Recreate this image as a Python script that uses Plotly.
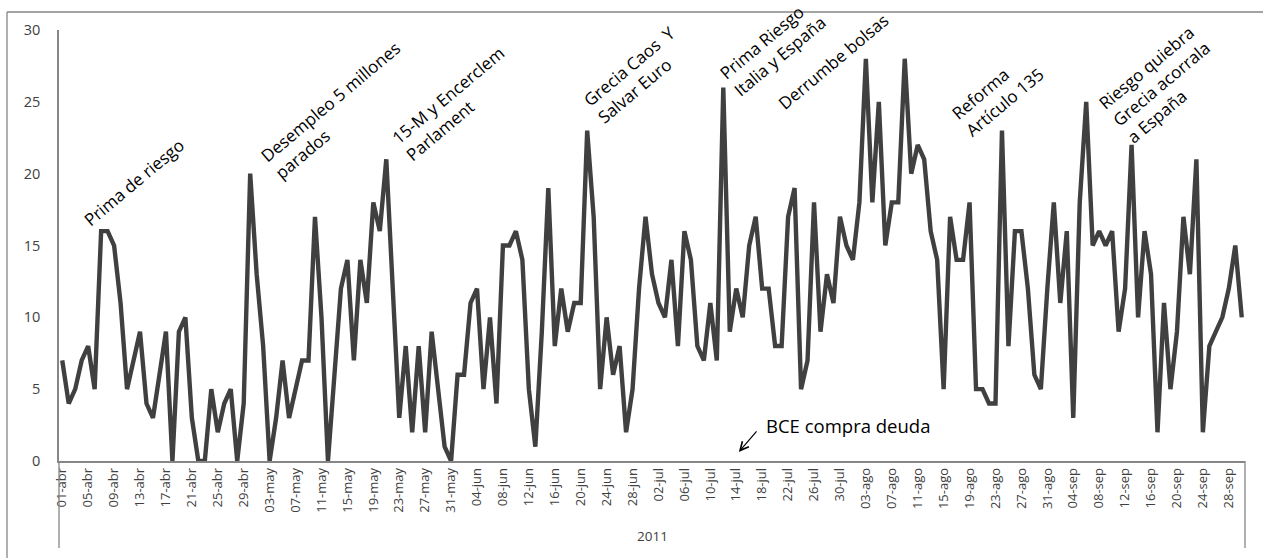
import pandas as pd
import plotly.graph_objects as go

# Daily counts, April-September 2011
abril = [7, 4, 5, 7, 8, 5, 16, 16, 15, 11, 5, 7, 9, 4, 3, 6, 9, 0, 9, 10,
         3, 0, 0, 5, 2, 4, 5, 0, 4, 20]
mayo = [13, 8, 0, 3, 7, 3, 5, 7, 7, 17, 10, 0, 6, 12, 14, 7, 14, 11, 18, 16,
        21, 12, 3, 8, 2, 8, 2, 9, 5, 1, 0]
junio = [6, 6, 11, 12, 5, 10, 4, 15, 15, 16, 14, 5, 1, 9, 19, 8, 12, 9, 11, 11,
         23, 17, 5, 10, 6, 8, 2, 5, 12, 17]
julio = [13, 11, 10, 14, 8, 16, 14, 8, 7, 11, 7, 26, 9, 12, 10, 15, 17, 12, 12, 8,
         8, 17, 19, 5, 7, 18, 9, 13, 11, 17, 15]
agosto = [14, 18, 28, 18, 25, 15, 18, 18, 28, 20, 22, 21, 16, 14, 5, 17, 14, 14, 18, 5,
          5, 4, 4, 23, 8, 16, 16, 12, 6, 5, 12]
septiembre = [18, 11, 16, 3, 18, 25, 15, 16, 15, 16, 9, 12, 22, 10, 16, 13, 2, 11, 5, 9,
              17, 13, 21, 2, 8, 9, 10, 12, 15, 10]
valores = abril + mayo + junio + julio + agosto + septiembre

MESES = {4: "abr", 5: "may", 6: "jun", 7: "jul", 8: "ago", 9: "sep"}
fechas = pd.date_range("2011-04-01", "2011-09-30", freq="D")
dias = [f"{d.day:02d}-{MESES[d.month]}" for d in fechas]
etiquetas = dias[::4]
anio = "2011"

# Event notes: (text, day index, value level)
eventos = [
    ("Prima de riesgo", 11.0, 19.4),
    ("Desempleo 5 millones<br>parados", 42.4, 24.4),
    ("15-M y Encerclem<br>Parlament", 60.6, 24.9),
    ("Grecia Caos  Y<br>Salvar Euro", 88.6, 26.9),
    ("Prima Riesgo<br>Italia y España", 109.6, 28.8),
    ("Derrumbe bolsas", 119.0, 27.8),
    ("Reforma<br>Artículo 135", 144.3, 25.6),
    ("Riesgo quiebra<br>Grecia acorrala<br>a España", 169.6, 26.3),
]

FONT = "Open Sans"
GRIS_EJE = "#868686"
TEXTO = "#404040"

# plot-area geometry in pixels, used to place frame elements in paper units
PX_L, PX_R, PX_T, PX_B = 59, 1245, 30, 461
ANCHO, ALTO = PX_R - PX_L, PX_B - PX_T


def px_x(px):
    return (px - PX_L) / ANCHO


def px_y(py):
    return (PX_B - py) / ALTO


fig = go.Figure()
fig.add_trace(go.Scatter(
    x=dias, y=valores, mode="lines",
    line=dict(color="#404040", width=4.4),
    hoverinfo="x+y", showlegend=False,
))

anots = []
for texto, xi, yv in eventos:
    anots.append(dict(
        text=texto, x=xi, y=yv, xref="x", yref="y",
        showarrow=False, textangle=-40, align="left",
        xanchor="center", yanchor="middle",
        font=dict(family=FONT, size=17, color="#000000"),
    ))

# ECB bond purchase note with its arrow
anots.append(dict(
    text="BCE compra deuda", x=108.3, y=2.5, xref="x", yref="y",
    showarrow=False, xanchor="left", yanchor="middle",
    font=dict(family=FONT, size=18.5, color="#000000"),
))
anots.append(dict(
    text="", x=104.4, y=0.63, xref="x", yref="y",
    showarrow=True, ax=19, ay=-22, axref="pixel", ayref="pixel",
    arrowhead=5, arrowsize=1.4, arrowwidth=1.2, arrowcolor="#000000",
))

# Second category level
anots.append(dict(
    text=anio, x=0.5, y=-0.175, xref="paper", yref="paper",
    showarrow=False, xanchor="center", yanchor="middle",
    font=dict(family=FONT, size=13.5, color=TEXTO),
))

shapes = [
    # category-level separators
    dict(type="line", xref="paper", yref="paper", x0=0, x1=0,
         y0=0, y1=px_y(548), line=dict(color=GRIS_EJE, width=1.3)),
    dict(type="line", xref="paper", yref="paper", x0=1, x1=1,
         y0=0, y1=px_y(548), line=dict(color=GRIS_EJE, width=1.3)),
    # chart frame, top and left edges
    dict(type="line", xref="paper", yref="paper", layer="above",
         x0=px_x(7), x1=px_x(1263), y0=px_y(12), y1=px_y(12),
         line=dict(color=GRIS_EJE, width=1.3)),
    dict(type="line", xref="paper", yref="paper", layer="above",
         x0=px_x(7), x1=px_x(7), y0=px_y(12), y1=px_y(558),
         line=dict(color=GRIS_EJE, width=1.3)),
]

fig.update_layout(
    width=1265, height=560,
    margin=dict(l=PX_L, r=1265 - PX_R, t=PX_T, b=560 - PX_B),
    paper_bgcolor="white", plot_bgcolor="white",
    font=dict(family=FONT, color=TEXTO),
    annotations=anots, shapes=shapes,
    xaxis=dict(
        type="category", range=[-0.5, len(dias) - 0.5],
        tickmode="array", tickvals=etiquetas, ticktext=etiquetas,
        tickangle=-90, tickfont=dict(family=FONT, size=13, color=TEXTO),
        showgrid=False, zeroline=False,
        showline=True, linecolor=GRIS_EJE, linewidth=1.5,
        ticks="", fixedrange=True,
    ),
    yaxis=dict(
        range=[0, 30], tickvals=[0, 5, 10, 15, 20, 25, 30],
        tickfont=dict(family=FONT, size=14.5, color=TEXTO),
        showgrid=False, zeroline=False,
        showline=True, linecolor=GRIS_EJE, linewidth=1.5,
        ticks="", ticklabelstandoff=14, fixedrange=True,
    ),
)

fig.write_html("out.html")
